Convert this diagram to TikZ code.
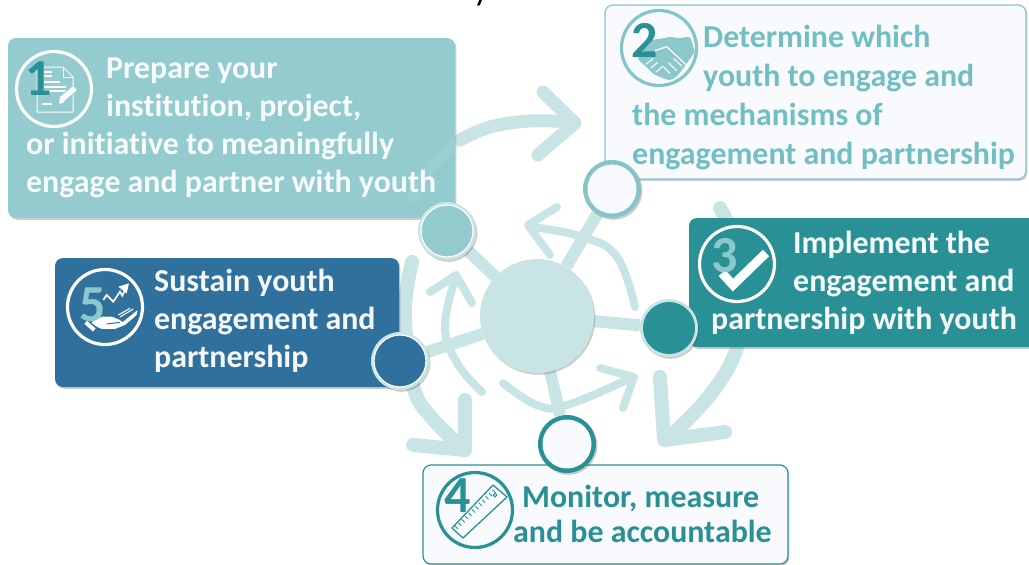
\documentclass[tikz,border=0pt]{standalone}
\usepackage{fontspec}
\setmainfont[Ligatures=NoCommon]{Carlito}
\usetikzlibrary{shadows}
\definecolor{pale}{HTML}{C8E4E5}
\definecolor{teal1}{HTML}{93CBCE}
\definecolor{teal2}{HTML}{72BFC3}
\definecolor{teal3}{HTML}{299195}
\definecolor{ring2}{HTML}{84C5C8}
\definecolor{blue5}{HTML}{30709D}
\definecolor{paper}{HTML}{F9FAFE}
\definecolor{digit}{HTML}{8CC8CB}
\pgfdeclarelayer{arcs}\pgfdeclarelayer{boxes}\pgfdeclarelayer{spokes}
\pgfsetlayers{arcs,boxes,spokes,main}
\tikzset{
 x=1pt,y=-1pt,
 softshadow/.style={drop shadow={shadow xshift=1.4pt,shadow yshift=-1.8pt,opacity=.28,fill=black!70}},
 stepbox/.style={rectangle,rounded corners=8pt,inner sep=0pt,softshadow},
 boxtext/.style={font=\fontsize{31.9}{38}\selectfont\bfseries,align=left,inner sep=0pt,anchor=west},
 numeral/.style={font=\fontsize{52}{52}\selectfont\bfseries,inner sep=0pt},
 iconring/.style={circle,draw,line width=3.2pt,minimum size=75pt,inner sep=0pt},
 halo/.style={circle,fill=pale,minimum size=58pt,inner sep=0pt,softshadow},
 disc/.style={circle,minimum size=52pt,inner sep=0pt},
 band/.style={draw=pale,line width=#1,line cap=round,line join=round},
 band/.default=13pt,
 spoke/.style={draw=pale,line width=12pt},
 hubdisc/.style={circle,fill=pale,minimum size=114pt,inner sep=0pt,softshadow},
 cropscale/.style={x=.3333pt,y=-.3333pt},
}
\begin{document}
\begin{tikzpicture}
\clip (0,0) rectangle (1029,565);
% fragment of title
\node[inner sep=0pt,anchor=base,font=\fontsize{34}{34}\selectfont] (titlefrag) at (481,0) {y};

\begin{pgfonlayer}{boxes}
\node[stepbox,fill=teal1,minimum width=447pt,minimum height=180pt] (b1) at (231.5,128) {};
\node[stepbox,fill=paper,draw=ring2,line width=1.2pt,minimum width=421pt,minimum height=174pt] (b2) at (815.5,92) {};
\node[stepbox,fill=teal3,minimum width=360pt,minimum height=129pt] (b3) at (869,282.5) {};
\node[stepbox,fill=paper,draw=teal3,line width=1.2pt,minimum width=365pt,minimum height=99pt] (b4) at (605.5,514.5) {};
\node[stepbox,fill=blue5,minimum width=344pt,minimum height=129pt] (b5) at (227,322.5) {};
\end{pgfonlayer}

% box texts
\node[boxtext,text=white!93!teal1] (t1) at (26,128) {\hspace*{80pt}Prepare your\\\hspace*{80pt}institution, project,\\or initiative to meaningfully\\engage and partner with youth};
\node[boxtext,text=teal2] (t2) at (632,97.5) {\hspace*{71pt}Determine which\\[.7pt]\hspace*{71pt}youth to engage and\\[.7pt]the mechanisms of\\[.7pt]engagement and partnership};
\node[boxtext,text=white!95!teal3] (t3) at (711,283) {\hspace*{82pt}Implement the\\\hspace*{82pt}engagement and\\partnership with youth};
\node[boxtext,text=teal3] (t4) at (513,514) {\hspace*{9pt}Monitor, measure\\[-2.5pt]and be accountable};
\node[boxtext,text=white!95!blue5] (t5) at (154,320.5) {Sustain youth\\engagement and\\partnership};

% icon rings
\node[iconring,draw=white] (r1) at (54,89) {};
\node[iconring,draw=ring2] (r2) at (659,48) {};
\node[iconring,draw=white] (r3) at (737,264) {};
\node[iconring,draw=teal3] (r4) at (475,510) {};
\node[iconring,draw=white] (r5) at (105,307) {};

% icon 1: document and pen
\draw[white,line width=1pt,line join=round] (37,67) -- (63,67) -- (73,77) -- (73,112) -- (37,112) -- cycle;
\draw[white,line width=1pt] (63,67) -- (63,77) -- (73,77);
\draw[white,line width=1.2pt] (44,72) -- (52,72) (44,76) -- (52,76) (44,82) -- (60,82) (44,87) -- (66,87) (44,91) -- (66,91) (42,104) -- (52,104);
\draw[white,line width=6pt] (62,99) -- (75,88);
\fill[white] (59,104) -- (60,97) -- (65,102) -- cycle;
\draw[teal1,line width=.8pt] (60,96) -- (73,85.5) (64,102) -- (77,91);

% icon 2: handshake
\begin{scope}[shift={(620,5)},cropscale]
\fill[digit,rounded corners=1.5pt] (55,150) -- (90,105) -- (130,100) -- (150,95) -- (175,100) -- (210,95) -- (225,140) -- (190,190) -- (170,215) -- (150,226) -- (130,220) -- (100,207) -- (75,182) -- (55,165) -- cycle;
\draw[paper,line width=1.3pt,line join=round] (105,137) -- (140,125) -- (197,178);
\draw[paper,line width=1.1pt] (78,178) -- (100,160) (92,190) -- (113,172) (108,202) -- (128,184) (130,185) -- (150,205) (145,173) -- (170,197) (160,160) -- (185,183);
\end{scope}

% icon 3: check mark
\draw[white,line width=9pt,line join=miter] (722,273) -- (733,285) -- (766,253);

% icon 4: ruler
\draw[teal3,line width=1.3pt,line join=round,fill=paper] (452,528) -- (463,538) -- (507,497) -- (493,485) -- cycle;
\foreach \k in {0,...,11}{
  \draw[teal3,line width=.9pt] ({455+\k*3.4},{526-\k*3.3}) -- ({458+\k*3.4},{529-\k*3.3});
}
\draw[teal3,line width=1pt] (495,495) circle (1.8pt);

% icon 5: hand and arrow
\begin{scope}[shift={(65,265)},cropscale]
\draw[white,line width=1.7pt,line join=miter] (115,105) -- (125,90) -- (145,110) -- (165,80) -- (172,92) -- (183,70);
\fill[white] (192,55) -- (160,65) -- (185,85) -- cycle;
\fill[white,rounded corners=1pt] (78,172) -- (110,155) -- (140,155) -- (165,165) -- (172,172) -- (218,135) -- (215,150) -- (180,180) -- (150,192) -- (110,192) -- (95,185) -- cycle;
\draw[white,line width=4pt] (62,172) -- (88,195);
\draw[blue5,line width=1pt] (125,177) -- (165,172);
\draw[white,line width=1.1pt] (160,150) -- (195,130) (165,156) -- (205,132);
\end{scope}

% numerals
\node[numeral,text=teal3] (d1) at (39,79) {1};
\node[numeral,text=teal3] (d2) at (645,40) {2};
\node[numeral,text=digit] (d3) at (725,256) {3};
\node[numeral,text=teal3] (d4) at (458,496) {4};
\node[numeral,text=digit] (d5) at (93,305) {5};

% hub and step discs
\node[hubdisc] (hub) at (537,316) {};
\node[halo] (n1) at (447,231) {};
\node[disc,fill=teal1,draw=white,line width=1.2pt] (n1i) at (n1) {};
\node[halo,fill=ring2] (n2) at (612,189) {};
\node[disc,fill=paper,minimum size=49pt] (n2i) at (n2) {};
\node[halo] (n3) at (669,328) {};
\node[disc,fill=teal3] (n3i) at (n3) {};
\node[halo,fill=teal3] (n4) at (567,444) {};
\node[disc,fill=paper,minimum size=49pt] (n4i) at (n4) {};
\node[halo] (n5) at (400,361) {};
\node[disc,fill=blue5,draw=white,line width=1.2pt] (n5i) at (n5) {};

\begin{pgfonlayer}{arcs}
% outer arc towards step 3 side
\draw[band=14pt] plot[smooth,tension=.7] coordinates {(720,208) (737,245) (745,290) (738,345) (710,395) (668,438)};
\draw[band=14pt] (660,377) -- (664,440) -- (725,432);
% outer arc on the left
\draw[band=14pt] plot[smooth,tension=.7] coordinates {(412,262) (405,313) (413,385) (432,418) (462,447)};
\draw[band=14pt] (465,400) -- (465,450) -- (413,445);
% outer arc at the top
\draw[band=13pt] plot[smooth,tension=.6] coordinates {(460,140) (490,127) (530,121) (572,122)};
\draw[band=13pt] (543,92) -- (575,123) -- (538,155);
% inner arcs
\draw[band=8pt] plot[smooth,tension=.7] coordinates {(635,307) (617,257) (583,237) (532,227)};
\draw[band=8pt] (557,207) -- (528,225) -- (550,255);
\draw[band=8pt] plot[smooth,tension=.7] coordinates {(503,383) (537,405) (567,405) (631,378)};
\draw[band=8pt] (600,368) -- (634,377) -- (623,408);
\draw[band=8pt] plot[smooth,tension=.7] coordinates {(482,392) (457,363) (445,327) (455,279)};
\draw[band=8pt] (430,292) -- (456,275) -- (472,303);
\end{pgfonlayer}

\begin{pgfonlayer}{spokes}
\draw[band=12pt,opacity=.15] plot[smooth,tension=.6] coordinates {(413,197) (430,168) (460,140)};
\draw[spoke] (hub) -- (n1);
\draw[spoke] (hub) -- (n2);
\draw[spoke] (hub) -- (n3);
\draw[spoke] (hub) -- (n4);
\draw[spoke] (hub) -- (n5);
\end{pgfonlayer}
\end{tikzpicture}
\end{document}
